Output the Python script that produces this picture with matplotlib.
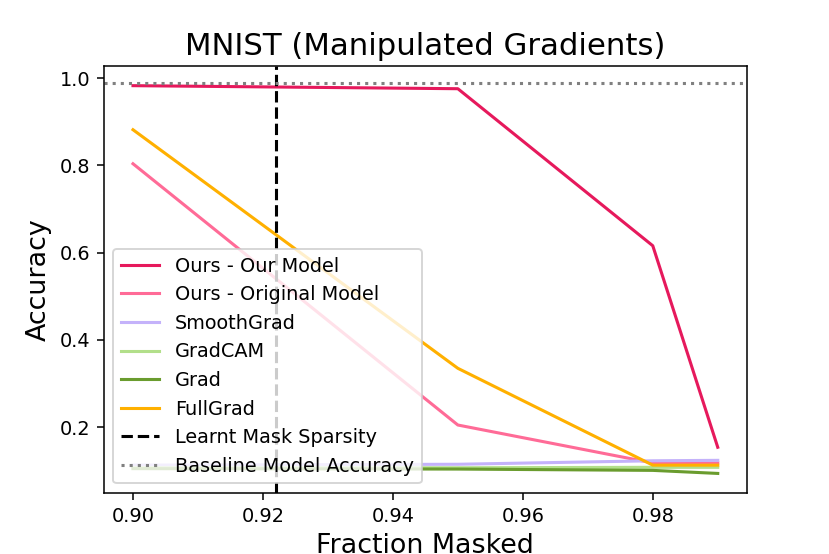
import matplotlib
matplotlib.use("Agg")
import matplotlib.pyplot as plt

fractions = [0.90, 0.95, 0.98, 0.99]
ours_our_model = [0.983, 0.976, 0.616, 0.154]
ours_original_model = [0.804, 0.205, 0.118, 0.118]
smoothgrad = [0.113, 0.115, 0.123, 0.124]
gradcam = [0.107, 0.107, 0.108, 0.108]
grad = [0.105, 0.104, 0.101, 0.094]
fullgrad = [0.882, 0.335, 0.113, 0.113]
learnt_sparsity = 0.922
baseline_acc = 0.99

series = [
    ("Ours - Our Model", ours_our_model, "#E6195C"),
    ("Ours - Original Model", ours_original_model, "#FF6B97"),
    ("SmoothGrad", smoothgrad, "#C4B2FA"),
    ("GradCAM", gradcam, "#B2DF8A"),
    ("Grad", grad, "#6A9C2E"),
    ("FullGrad", fullgrad, "#FFB000"),
]

fig, ax = plt.subplots(figsize=(6, 4.005), dpi=138.33)
for label, vals, color in series:
    ax.plot(fractions, vals, color=color, lw=1.6, label=label)
ax.axvline(learnt_sparsity, color="black", ls="--", lw=1.6, label="Learnt Mask Sparsity")
ax.axhline(baseline_acc, color="grey", ls=":", lw=1.6, label="Baseline Model Accuracy")
ax.set_ylim(0.049, 1.027)
ax.set_xticks([0.90, 0.92, 0.94, 0.96, 0.98])
ax.set_title("MNIST (Manipulated Gradients)", fontsize=16)
ax.set_xlabel("Fraction Masked", fontsize=14)
ax.set_ylabel("Accuracy", fontsize=14)
ax.legend(loc="lower left")
fig.savefig("out.png", dpi=138.33)
